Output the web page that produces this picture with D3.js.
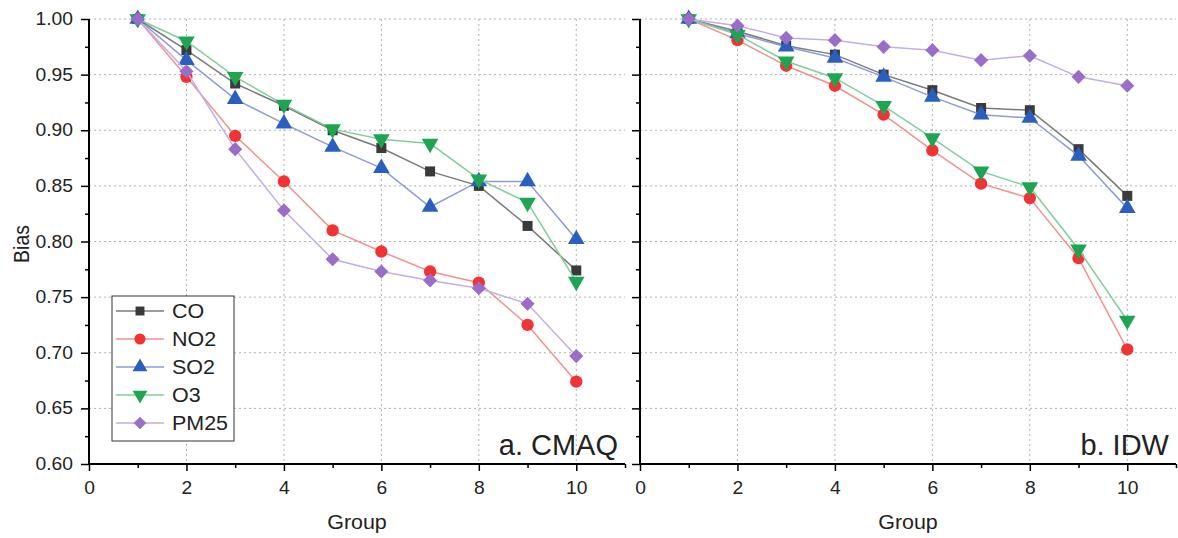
<!DOCTYPE html>
<html>
<head>
<meta charset="utf-8">
<script src="https://cdn.jsdelivr.net/npm/d3@7"></script>
<style>
  html, body { margin: 0; padding: 0; background: #fff; }
  svg { display: block; font-family: "Liberation Sans", Arial, sans-serif; }
</style>
</head>
<body>
<svg id="chart" width="1178" height="538"></svg>
<script>
// Groups along the x axis
const groups = [1, 2, 3, 4, 5, 6, 7, 8, 9, 10];
const seriesNames = ["CO", "NO2", "SO2", "O3", "PM25"];

// Panel a: CMAQ
const cmaqCO   = [1.000, 0.972, 0.942, 0.922, 0.900, 0.884, 0.863, 0.850, 0.814, 0.774];
const cmaqNO2  = [1.000, 0.948, 0.895, 0.854, 0.810, 0.791, 0.773, 0.763, 0.725, 0.674];
const cmaqSO2  = [1.000, 0.963, 0.928, 0.906, 0.885, 0.866, 0.831, 0.854, 0.854, 0.802];
const cmaqO3   = [1.000, 0.980, 0.948, 0.923, 0.901, 0.892, 0.888, 0.856, 0.835, 0.764];
const cmaqPM25 = [1.000, 0.953, 0.883, 0.828, 0.784, 0.773, 0.765, 0.758, 0.744, 0.697];

// Panel b: IDW
const idwCO   = [1.000, 0.989, 0.976, 0.968, 0.950, 0.936, 0.920, 0.918, 0.883, 0.841];
const idwNO2  = [1.000, 0.981, 0.958, 0.940, 0.914, 0.882, 0.852, 0.839, 0.785, 0.703];
const idwSO2  = [1.000, 0.987, 0.975, 0.965, 0.948, 0.930, 0.914, 0.911, 0.877, 0.830];
const idwO3   = [1.000, 0.986, 0.962, 0.947, 0.922, 0.893, 0.863, 0.849, 0.793, 0.729];
const idwPM25 = [1.000, 0.994, 0.983, 0.981, 0.975, 0.972, 0.963, 0.967, 0.948, 0.940];

// Axis ticks
const xTicks = [0, 2, 4, 6, 8, 10];
const xMinorTicks = [1, 3, 5, 7, 9, 11];
const yTicks = [0.60, 0.65, 0.70, 0.75, 0.80, 0.85, 0.90, 0.95, 1.00];
const yMinorTicks = [0.625, 0.675, 0.725, 0.775, 0.825, 0.875, 0.925, 0.975];

const panels = [
  { label: "a. CMAQ", left: 89, showYLabels: true,
    values: [cmaqCO, cmaqNO2, cmaqSO2, cmaqO3, cmaqPM25] },
  { label: "b. IDW", left: 640, showYLabels: false,
    values: [idwCO, idwNO2, idwSO2, idwO3, idwPM25] }
];

const style = {
  CO:   { fill: "#3a3a3a", line: "#7a7a7a", symbol: d3.symbolSquare,   size: 100, rotate: 0 },
  NO2:  { fill: "#f03434", line: "#f39090", symbol: d3.symbolCircle,   size: 120, rotate: 0 },
  SO2:  { fill: "#2a5fc0", line: "#8f9ad6", symbol: d3.symbolTriangle, size: 120, rotate: 0 },
  O3:   { fill: "#1fa551", line: "#7fcf9c", symbol: d3.symbolTriangle, size: 120, rotate: 180 },
  PM25: { fill: "#9a6dc8", line: "#c2aee0", symbol: d3.symbolSquare,   size: 100, rotate: 45 }
};

// text in this figure is set slightly wide
const WIDE = 1.1;
function widen(sel) {
  sel.each(function () {
    const t = d3.select(this);
    const x = +t.attr("x") || 0, yy = +t.attr("y") || 0;
    t.attr("x", 0).attr("y", 0)
     .attr("transform", `translate(${x},${yy}) scale(${WIDE},1)`);
  });
}

const svg = d3.select("#chart");
const plotW = 536, plotTop = 19, plotBottom = 464;

const y = d3.scaleLinear().domain([0.6, 1.0]).range([plotBottom, plotTop]);

panels.forEach(p => {
  const x = d3.scaleLinear().domain([0, 11]).range([p.left, p.left + plotW]);
  const g = svg.append("g");

  // dotted grid
  g.append("g").selectAll("line").data(xTicks.filter(d => d > 0)).join("line")
    .attr("x1", d => x(d)).attr("x2", d => x(d))
    .attr("y1", plotTop).attr("y2", plotBottom)
    .attr("stroke", "#b0b0b0").attr("stroke-width", 1).attr("stroke-dasharray", "2,3");
  g.append("g").selectAll("line").data(yTicks.filter(d => d > 0.6)).join("line")
    .attr("x1", p.left).attr("x2", p.left + plotW)
    .attr("y1", d => y(d)).attr("y2", d => y(d))
    .attr("stroke", "#b0b0b0").attr("stroke-width", 1).attr("stroke-dasharray", "2,3");

  // x axis
  const xAxis = g.append("g").attr("transform", `translate(0,${plotBottom})`)
    .call(d3.axisBottom(x).tickValues(xTicks).tickSize(7).tickPadding(11).tickFormat(d3.format("d")));
  g.append("g").attr("transform", `translate(0,${plotBottom})`)
    .call(d3.axisBottom(x).tickValues(xMinorTicks).tickSize(4).tickFormat(""))
    .call(a => a.select(".domain").remove());

  // y axis
  const yAxis = g.append("g").attr("transform", `translate(${p.left},0)`)
    .call(d3.axisLeft(y).tickValues(yTicks).tickSize(8).tickPadding(8)
      .tickFormat(p.showYLabels ? d3.format(".2f") : ""));
  g.append("g").attr("transform", `translate(${p.left},0)`)
    .call(d3.axisLeft(y).tickValues(yMinorTicks).tickSize(4).tickFormat(""))
    .call(a => a.select(".domain").remove());

  [xAxis, yAxis].forEach(a => {
    a.select(".domain").attr("stroke", "#000").attr("stroke-width", 2);
    a.selectAll(".tick text").attr("font-size", 17.5).attr("fill", "#222")
      .attr("font-family", "Liberation Sans, Arial, sans-serif")
      .call(widen);
  });
  g.selectAll(".tick line").attr("stroke", "#000").attr("stroke-width", 1.5);
  xAxis.select(".domain").attr("d", `M${x(0)},0H${x(11)}`);
  yAxis.select(".domain").attr("d", `M0,${y(0.6)}V${y(1.0)}`);

  // series: line then markers
  const line = d3.line().x((d, i) => x(groups[i])).y(d => y(d));
  seriesNames.forEach((name, si) => {
    const s = style[name];
    const vals = p.values[si];
    g.append("path").datum(vals).attr("d", line)
      .attr("fill", "none").attr("stroke", s.line).attr("stroke-width", 1.5);
    g.append("g").selectAll("path").data(vals).join("path")
      .attr("d", d3.symbol().type(s.symbol).size(s.size))
      .attr("transform", (d, i) => `translate(${x(groups[i])},${y(d)}) rotate(${s.rotate})`)
      .attr("fill", s.fill);
  });

  // panel label
  g.append("text")
    .attr("x", p.left + plotW - 7).attr("y", plotBottom - 9)
    .attr("text-anchor", "end").attr("font-size", 29).attr("fill", "#222")
    .text(p.label);

  // x title
  g.append("text")
    .attr("x", p.left + 268).attr("y", 529)
    .attr("text-anchor", "middle").attr("font-size", 19.5).attr("fill", "#222")
    .text("Group").call(widen);
});

// y title
svg.append("text")
  .attr("transform", `translate(29,244) rotate(-90) scale(1,${WIDE})`)
  .attr("text-anchor", "middle").attr("font-size", 19.5).attr("fill", "#222")
  .text("Bias");

// legend
const lg = svg.append("g");
lg.append("rect").attr("x", 112).attr("y", 296).attr("width", 122).attr("height", 145)
  .attr("fill", "#fff").attr("stroke", "#333").attr("stroke-width", 1);
seriesNames.forEach((name, i) => {
  const s = style[name];
  const cy = 311 + i * 28;
  lg.append("line").attr("x1", 116).attr("x2", 164).attr("y1", cy).attr("y2", cy)
    .attr("stroke", s.line).attr("stroke-width", 1.5);
  lg.append("path")
    .attr("d", d3.symbol().type(s.symbol).size(s.size * 0.8))
    .attr("transform", `translate(140,${cy}) rotate(${s.rotate})`)
    .attr("fill", s.fill);
  lg.append("text").attr("x", 172).attr("y", cy + 7)
    .attr("font-size", 19.5).attr("fill", "#222").text(name).call(widen);
});
</script>
</body>
</html>
